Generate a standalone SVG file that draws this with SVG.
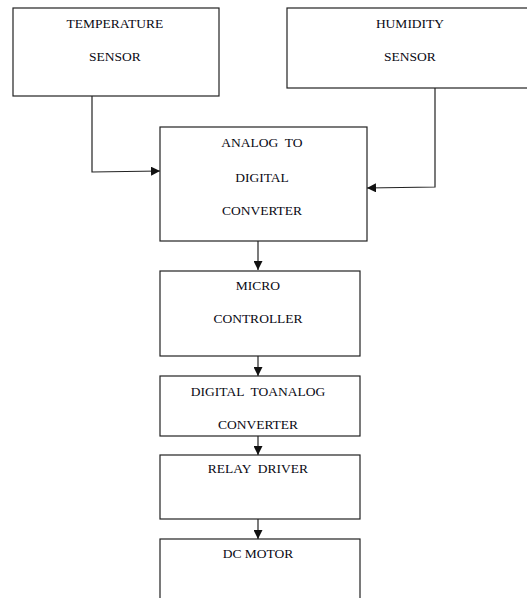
<svg xmlns="http://www.w3.org/2000/svg" width="527" height="598" viewBox="0 0 527 598">
<style>
.box{fill:#fff;stroke:#222;stroke-width:1.2}
.t{font-family:"Liberation Serif","Times New Roman",serif;font-size:13.5px;fill:#0a0a14;text-anchor:middle;white-space:pre}
.c{fill:none;stroke:#222;stroke-width:1.2}
</style>
<defs>
<marker id="ah" viewBox="0 0 10 10" refX="10" refY="5" markerWidth="9" markerHeight="9" markerUnits="userSpaceOnUse" orient="auto">
<path d="M0,0 L10,5 L0,10 z" fill="#111"/>
</marker>
</defs>
<rect width="527" height="598" fill="#fff"/>
<g id="connectors">
<polyline class="c" points="92,96 92,172 160,171" marker-end="url(#ah)"/>
<polyline class="c" points="435,88 435,187 367,188" marker-end="url(#ah)"/>
<line class="c" x1="258" y1="241" x2="258" y2="270" marker-end="url(#ah)"/>
<line class="c" x1="258" y1="356" x2="258" y2="376" marker-end="url(#ah)"/>
<line class="c" x1="258" y1="436" x2="258" y2="455" marker-end="url(#ah)"/>
<line class="c" x1="258" y1="519" x2="258" y2="539" marker-end="url(#ah)"/>
</g>
<g id="temperature">
<rect class="box" x="13" y="8" width="206" height="88"/>
<text class="t" x="115" y="28">TEMPERATURE</text>
<text class="t" x="115" y="61">SENSOR</text>
</g>
<g id="humidity">
<rect class="box" x="287" y="8" width="242" height="80"/>
<text class="t" x="410" y="28">HUMIDITY</text>
<text class="t" x="410" y="61">SENSOR</text>
</g>
<g id="adc">
<rect class="box" x="160" y="127" width="207" height="114"/>
<text class="t" x="262" y="147" xml:space="preserve">ANALOG  TO</text>
<text class="t" x="262" y="182">DIGITAL</text>
<text class="t" x="262" y="215">CONVERTER</text>
</g>
<g id="micro">
<rect class="box" x="160" y="271" width="200" height="85"/>
<text class="t" x="258" y="290">MICRO</text>
<text class="t" x="258" y="323">CONTROLLER</text>
</g>
<g id="dac">
<rect class="box" x="160" y="376" width="200" height="60"/>
<text class="t" x="258" y="396" xml:space="preserve">DIGITAL  TOANALOG</text>
<text class="t" x="258" y="429">CONVERTER</text>
</g>
<g id="relay">
<rect class="box" x="160" y="455" width="200" height="64"/>
<text class="t" x="258" y="473" xml:space="preserve">RELAY  DRIVER</text>
</g>
<g id="motor">
<rect class="box" x="160" y="539" width="200" height="70"/>
<text class="t" x="258" y="558">DC MOTOR</text>
</g>
</svg>
